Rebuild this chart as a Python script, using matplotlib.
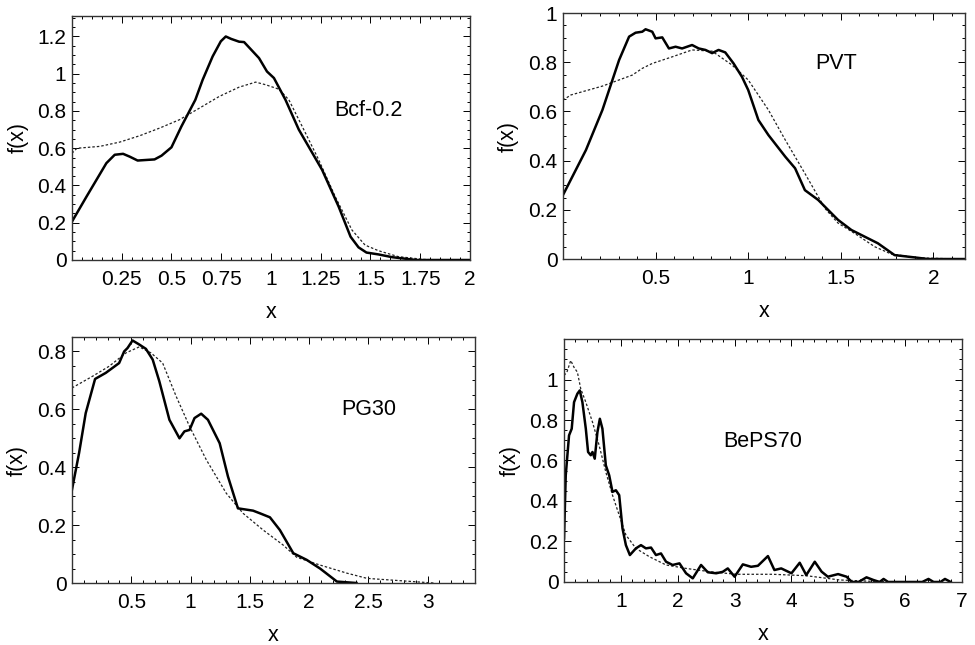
import matplotlib
matplotlib.use("Agg")
import matplotlib.pyplot as plt
from matplotlib.ticker import MultipleLocator, FixedLocator, FuncFormatter

plt.rcParams['font.family'] = ['Liberation Sans', 'DejaVu Sans']

# ---------------- data ----------------
# Panel 1: Bcf-0.2
bcf_x = [0.0, 0.073, 0.173, 0.215, 0.257, 0.29, 0.33, 0.415, 0.45, 0.5, 0.55, 0.62, 0.657,
         0.707, 0.748, 0.773, 0.8, 0.84, 0.865, 0.94, 0.98, 1.015, 1.073, 1.14, 1.257, 1.34,
         1.4, 1.44, 1.48, 1.54, 1.61, 1.73, 1.8, 2.0]
bcf_y = [0.206, 0.34, 0.52, 0.565, 0.57, 0.555, 0.534, 0.54, 0.56, 0.605, 0.717, 0.86, 0.968,
         1.093, 1.174, 1.2, 1.187, 1.172, 1.17, 1.084, 1.012, 0.977, 0.86, 0.70, 0.484, 0.287,
         0.125, 0.068, 0.04, 0.03, 0.015, 0.0, 0.0, 0.0]
bcf_fit_x = [0.0, 0.025, 0.14, 0.24, 0.34, 0.44, 0.54, 0.64, 0.74, 0.84, 0.923, 0.973, 1.04,
             1.09, 1.157, 1.24, 1.323, 1.407, 1.473, 1.54, 1.64, 1.77, 1.86]
bcf_fit_y = [0.573, 0.60, 0.61, 0.633, 0.667, 0.708, 0.753, 0.815, 0.878, 0.928, 0.955, 0.941,
             0.917, 0.86, 0.717, 0.538, 0.34, 0.161, 0.08, 0.05, 0.018, 0.003, 0.0]

# Panel 2: PVT
pvt_x = [0.0, 0.124, 0.213, 0.303, 0.357, 0.392, 0.428, 0.446, 0.482, 0.5, 0.536, 0.572, 0.608,
         0.643, 0.697, 0.733, 0.769, 0.805, 0.84, 0.876, 0.921, 0.966, 1.0, 1.055, 1.109, 1.2,
         1.253, 1.306, 1.378, 1.485, 1.557, 1.7, 1.79, 1.916, 1.97, 2.17]
pvt_y = [0.26, 0.443, 0.606, 0.809, 0.904, 0.92, 0.924, 0.934, 0.924, 0.897, 0.901, 0.856, 0.863,
         0.856, 0.87, 0.856, 0.85, 0.837, 0.85, 0.84, 0.795, 0.741, 0.687, 0.565, 0.504, 0.416,
         0.369, 0.28, 0.24, 0.159, 0.118, 0.064, 0.016, 0.005, 0.0, 0.0]
pvt_fit_x = [0.0, 0.043, 0.213, 0.375, 0.428, 0.482, 0.59, 0.697, 0.805, 0.912, 1.0, 1.109,
             1.2, 1.306, 1.414, 1.485, 1.575, 1.683, 1.773, 1.916, 2.14]
pvt_fit_y = [0.646, 0.667, 0.703, 0.748, 0.775, 0.795, 0.822, 0.85, 0.845, 0.789, 0.728, 0.606,
             0.484, 0.348, 0.206, 0.146, 0.104, 0.05, 0.02, 0.005, 0.0]

# Panel 3: PG30
pg_x = [0.0, 0.06, 0.116, 0.195, 0.285, 0.398, 0.44, 0.469, 0.511, 0.568, 0.624, 0.681, 0.737,
        0.822, 0.907, 0.949, 0.992, 1.034, 1.09, 1.147, 1.246, 1.316, 1.40, 1.528, 1.585, 1.67,
        1.754, 1.867, 1.98, 2.093, 2.235, 2.4]
pg_y = [0.322, 0.449, 0.587, 0.705, 0.726, 0.76, 0.80, 0.812, 0.838, 0.824, 0.809, 0.772, 0.697,
        0.564, 0.50, 0.524, 0.529, 0.57, 0.585, 0.564, 0.483, 0.368, 0.258, 0.25, 0.241, 0.227,
        0.183, 0.103, 0.08, 0.05, 0.005, 0.0]
pg_fit_x = [0.0, 0.172, 0.314, 0.455, 0.568, 0.667, 0.765, 0.879, 0.992, 1.133, 1.302, 1.443,
            1.613, 1.782, 1.896, 2.093, 2.32, 2.49, 2.77, 3.05]
pg_fit_y = [0.674, 0.714, 0.749, 0.795, 0.816, 0.795, 0.76, 0.645, 0.541, 0.426, 0.31, 0.241,
            0.183, 0.131, 0.089, 0.062, 0.034, 0.016, 0.008, 0.0]

# Panel 4: BePS70
beps_x = [0.0, 0.03, 0.088, 0.135, 0.176, 0.235, 0.277, 0.323, 0.383, 0.423, 0.47, 0.5, 0.54,
          0.587, 0.63, 0.675, 0.735, 0.794, 0.852, 0.912, 0.97, 1.028, 1.088, 1.158, 1.264,
          1.353, 1.44, 1.53, 1.617, 1.705, 1.794, 1.91, 2.03, 2.146, 2.264, 2.41, 2.528, 2.675,
          2.79, 2.88, 3.0, 3.145, 3.29, 3.41, 3.586, 3.70, 3.82, 4.0, 4.145, 4.26, 4.41, 4.53,
          4.64, 4.82, 4.97, 5.06, 5.18, 5.32, 5.44, 5.55, 5.62, 5.7, 6.3, 6.41, 6.5, 6.62, 6.70,
          6.8]
beps_y = [0.215, 0.527, 0.724, 0.757, 0.888, 0.93, 0.946, 0.888, 0.757, 0.642, 0.626, 0.642,
          0.609, 0.74, 0.806, 0.757, 0.576, 0.527, 0.445, 0.453, 0.429, 0.265, 0.182, 0.133,
          0.166, 0.182, 0.166, 0.17, 0.133, 0.141, 0.10, 0.084, 0.092, 0.043, 0.018, 0.084,
          0.048, 0.043, 0.05, 0.067, 0.026, 0.087, 0.075, 0.08, 0.128, 0.059, 0.067, 0.043,
          0.095, 0.034, 0.10, 0.051, 0.026, 0.039, 0.026, 0.0, 0.0, 0.023, 0.01, 0.0, 0.015,
          0.0, 0.0, 0.015, 0.0, 0.0, 0.015, 0.0]
beps_fit_x = [0.0, 0.05, 0.118, 0.176, 0.235, 0.294, 0.383, 0.5, 0.617, 0.735, 0.852, 0.97,
              1.088, 1.264, 1.5, 1.794, 2.146, 2.56, 3.03, 3.67, 4.26, 4.85, 5.43, 6.0]
beps_fit_y = [1.02, 1.036, 1.094, 1.06, 1.036, 0.954, 0.888, 0.79, 0.675, 0.543, 0.429, 0.33,
              0.232, 0.166, 0.125, 0.084, 0.067, 0.051, 0.038, 0.038, 0.031, 0.01, 0.003, 0.0]

labels = ["Bcf-0.2", "PVT", "PG30", "BePS70"]

# ---------------- figure ----------------
fig = plt.figure(figsize=(9.75, 6.45), dpi=100)

rects = [
    (0.0738, 0.5969, 0.4082, 0.3783),
    (0.5774, 0.5984, 0.4123, 0.3814),
    (0.0738, 0.0961, 0.4134, 0.3814),
    (0.5785, 0.0977, 0.4082, 0.3767),
]

panels = [
    dict(x=bcf_x, y=bcf_y, fx=bcf_fit_x, fy=bcf_fit_y, xlim=(0, 2), ylim=(0, 1.31),
         xt=[0.25, 0.5, 0.75, 1, 1.25, 1.5, 1.75, 2], xminor=0.05,
         yt=[0, 0.2, 0.4, 0.6, 0.8, 1, 1.2], yminor=0.05, lab=(1.49, 0.80)),
    dict(x=pvt_x, y=pvt_y, fx=pvt_fit_x, fy=pvt_fit_y, xlim=(0, 2.17), ylim=(0, 1.0),
         xt=[0.5, 1, 1.5, 2], xminor=0.1,
         yt=[0, 0.2, 0.4, 0.6, 0.8, 1], yminor=0.05, lab=(1.477, 0.795)),
    dict(x=pg_x, y=pg_y, fx=pg_fit_x, fy=pg_fit_y, xlim=(0, 3.4), ylim=(0, 0.85),
         xt=[0.5, 1, 1.5, 2, 2.5, 3], xminor=0.1,
         yt=[0, 0.2, 0.4, 0.6, 0.8], yminor=0.05, lab=(2.50, 0.60)),
    dict(x=beps_x, y=beps_y, fx=beps_fit_x, fy=beps_fit_y, xlim=(0, 7), ylim=(0, 1.2),
         xt=[1, 2, 3, 4, 5, 6, 7], xminor=0.2,
         yt=[0, 0.2, 0.4, 0.6, 0.8, 1], yminor=0.05, lab=(3.49, 0.696)),
]

fmt = FuncFormatter(lambda v, p: f"{v:g}")

for rect, p, lab in zip(rects, panels, labels):
    ax = fig.add_axes(rect)
    ax.plot(p['fx'], p['fy'], color='#222222', lw=0.9, linestyle=(0, (2.0, 1.6)))
    ax.plot(p['x'], p['y'], color='black', lw=1.8, solid_joinstyle='round')
    ax.set_xlim(*p['xlim'])
    ax.set_ylim(*p['ylim'])
    ax.xaxis.set_major_locator(FixedLocator(p['xt']))
    ax.yaxis.set_major_locator(FixedLocator(p['yt']))
    ax.xaxis.set_minor_locator(MultipleLocator(p['xminor']))
    ax.yaxis.set_minor_locator(MultipleLocator(p['yminor']))
    ax.xaxis.set_major_formatter(fmt)
    ax.yaxis.set_major_formatter(fmt)
    ax.tick_params(which='both', direction='in', top=True, right=True, colors='black',
                   labelsize=15, width=0.7)
    ax.tick_params(which='major', length=5)
    ax.tick_params(which='minor', length=2.5)
    ax.tick_params(axis='x', pad=7)
    ax.tick_params(axis='y', pad=4)
    for s in ax.spines.values():
        s.set_linewidth(1.0)
        s.set_color('#333333')
    ax.text(p['lab'][0], p['lab'][1], lab, fontsize=15.5, ha='center', va='center')
    ax.set_xlabel("x", fontsize=15.5)
    ax.set_ylabel("f(x)", fontsize=15.5)
    ax.xaxis.set_label_coords(0.5, -0.215)
    ax.xaxis.label.set_va('center')
    ax.yaxis.set_label_coords(-0.135, 0.5)
    ax.yaxis.label.set_va('center')

fig.savefig("out.png", dpi=100)
